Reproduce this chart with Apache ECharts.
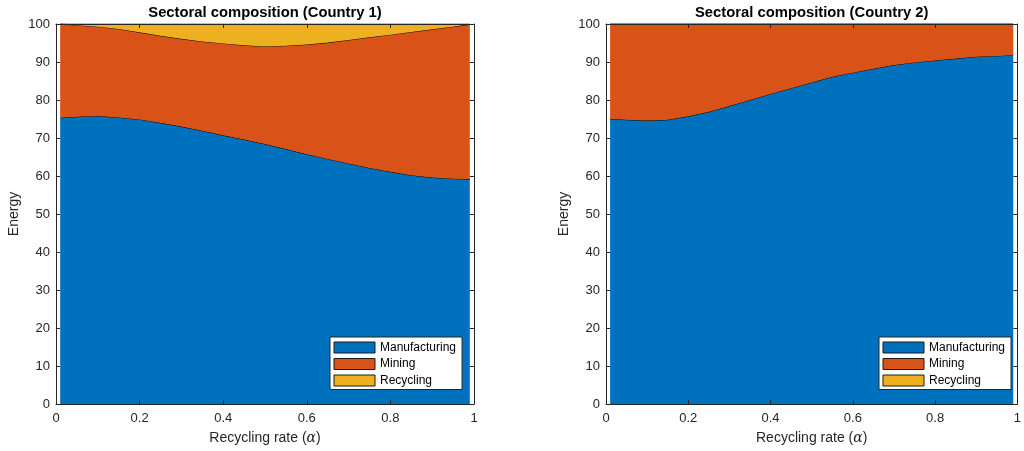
<!DOCTYPE html>
<html>
<head>
<meta charset="utf-8">
<script src="https://cdn.jsdelivr.net/npm/echarts@6/dist/echarts.min.js"></script>
<style>
html,body{margin:0;padding:0;background:#fff;}
#c{width:1024px;height:451px;}
</style>
</head>
<body>
<div id="c"></div>
<script>
// Recycling rate (alpha) sample points
var alpha = [0.01, 0.05, 0.10, 0.15, 0.20, 0.25, 0.30, 0.35, 0.40, 0.45, 0.50, 0.55, 0.60, 0.65, 0.70, 0.75, 0.80, 0.85, 0.90, 0.95, 0.99];

// Country 1
var c1Manufacturing = [75.3, 75.6, 75.8, 75.4, 74.9, 74.0, 73.0, 71.9, 70.7, 69.6, 68.4, 67.1, 65.7, 64.5, 63.3, 62.1, 61.1, 60.2, 59.6, 59.3, 59.2];
var c1Mining        = [24.7, 24.1, 23.5, 23.3, 22.9, 22.9, 23.1, 23.5, 24.2, 24.8, 25.7, 27.2, 28.9, 30.6, 32.5, 34.4, 36.1, 37.7, 39.0, 40.0, 40.7];
var c1Recycling     = [0.0, 0.3, 0.7, 1.3, 2.2, 3.1, 3.9, 4.6, 5.1, 5.6, 5.9, 5.7, 5.4, 4.9, 4.2, 3.5, 2.8, 2.1, 1.4, 0.7, 0.1];

// Country 2
var c2Manufacturing = [75.0, 74.8, 74.6, 74.8, 75.7, 76.9, 78.4, 80.0, 81.6, 83.1, 84.6, 86.1, 87.2, 88.2, 89.2, 89.9, 90.4, 90.9, 91.4, 91.6, 91.8];
var c2Mining        = [25.0, 25.2, 25.4, 25.2, 24.3, 23.1, 21.6, 20.0, 18.4, 16.9, 15.4, 13.9, 12.8, 11.8, 10.8, 10.1, 9.6, 9.1, 8.6, 8.4, 8.2];
var c2Recycling     = [0, 0, 0, 0, 0, 0, 0, 0, 0, 0, 0, 0, 0, 0, 0, 0, 0, 0, 0, 0, 0];

var sectorNames = ['Manufacturing', 'Mining', 'Recycling'];
var sectorColors = ['#0072BD', '#D95319', '#EDB120'];
var titles = ['Sectoral composition (Country 1)', 'Sectoral composition (Country 2)'];
var xName = 'Recycling rate ({a|\u03B1})';
var yName = 'Energy';

var FONT = "'Liberation Sans', Arial, Helvetica, sans-serif";
var AX = '#262626';

// value first, alpha second, so the stack is applied to the value dimension
function pairs(vals) {
  return alpha.map(function (a, i) { return [vals[i], a]; });
}

var grids = [
  { left: 56, top: 23, width: 418, height: 381 },
  { left: 606, top: 23, width: 416, height: 381 }
];

var xAxes = [], yAxes = [];
[0, 1].forEach(function (g) {
  xAxes.push({
    type: 'value', gridIndex: g, min: 0, max: 1, interval: 0.2, position: 'bottom', z: 5,
    axisLine: { show: true, onZero: false, lineStyle: { color: AX, width: 1 } },
    axisTick: { show: true, inside: true, length: 4, lineStyle: { color: AX } },
    axisLabel: { color: AX, fontSize: 13, fontFamily: FONT, margin: 8 },
    splitLine: { show: false },
    name: xName, nameLocation: 'middle', nameGap: 27,
    nameTextStyle: { color: AX, fontSize: 14, fontFamily: FONT,
      rich: { a: { fontFamily: "'DejaVu Serif', serif", fontStyle: 'italic', fontSize: 14, color: AX } } }
  });
  xAxes.push({
    type: 'value', gridIndex: g, min: 0, max: 1, interval: 0.2, position: 'top', z: 5,
    axisLine: { show: true, onZero: false, lineStyle: { color: AX, width: 1 } },
    axisTick: { show: true, inside: true, length: 4, lineStyle: { color: AX } },
    axisLabel: { show: false },
    splitLine: { show: false },
    name: titles[g], nameLocation: 'middle', nameGap: 4,
    nameTextStyle: { color: '#000', fontSize: 14.8, fontWeight: 'bold', fontFamily: FONT }
  });
  yAxes.push({
    type: 'value', gridIndex: g, min: 0, max: 100, interval: 10, position: 'left', z: 5,
    axisLine: { show: true, onZero: false, lineStyle: { color: AX, width: 1 } },
    axisTick: { show: true, inside: true, length: 4, lineStyle: { color: AX } },
    axisLabel: { color: AX, fontSize: 13, fontFamily: FONT, margin: 6 },
    splitLine: { show: false },
    name: yName, nameLocation: 'middle', nameGap: 35, nameRotate: 90,
    nameTextStyle: { color: AX, fontSize: 14, fontFamily: FONT }
  });
  yAxes.push({
    type: 'value', gridIndex: g, min: 0, max: 100, interval: 10, position: 'right', z: 5,
    axisLine: { show: true, onZero: false, lineStyle: { color: AX, width: 1 } },
    axisTick: { show: true, inside: true, length: 4, lineStyle: { color: AX } },
    axisLabel: { show: false },
    splitLine: { show: false }
  });
});

var countryData = [
  [c1Manufacturing, c1Mining, c1Recycling],
  [c2Manufacturing, c2Mining, c2Recycling]
];

var series = [];
countryData.forEach(function (sets, g) {
  sets.forEach(function (vals, k) {
    series.push({
      type: 'line',
      name: sectorNames[k],
      xAxisIndex: g * 2,
      yAxisIndex: g * 2,
      stack: 'country' + g,
      encode: { x: 1, y: 0 },
      data: pairs(vals),
      showSymbol: false,
      symbol: 'none',
      silent: true,
      animation: false,
      itemStyle: { color: sectorColors[k] },
      lineStyle: { color: '#000', width: 1 },
      areaStyle: { color: sectorColors[k], opacity: 1 },
      z: 2 + k
    });
  });
});

var legendItems = sectorNames.map(function (n, k) {
  return { name: n, icon: 'rect', itemStyle: { color: sectorColors[k], borderColor: '#1a1a1a', borderWidth: 1 } };
});

function makeLegend(left) {
  return {
    orient: 'vertical', left: left, top: 337,
    icon: 'rect', itemWidth: 41, itemHeight: 11, itemGap: 4.5,
    padding: [4.5, 6, 3, 3.5],
    backgroundColor: '#fff', borderColor: AX, borderWidth: 1,
    selectedMode: false,
    textStyle: { color: '#000', fontSize: 12, fontFamily: FONT, lineHeight: 12 },
    data: legendItems,
    z: 10
  };
}

var chart = echarts.init(document.getElementById('c'), null, { renderer: 'canvas' });
chart.setOption({
  animation: false,
  backgroundColor: '#fff',
  grid: grids,
  xAxis: xAxes,
  yAxis: yAxes,
  legend: [makeLegend(330), makeLegend(879)],
  series: series
});
</script>
</body>
</html>
